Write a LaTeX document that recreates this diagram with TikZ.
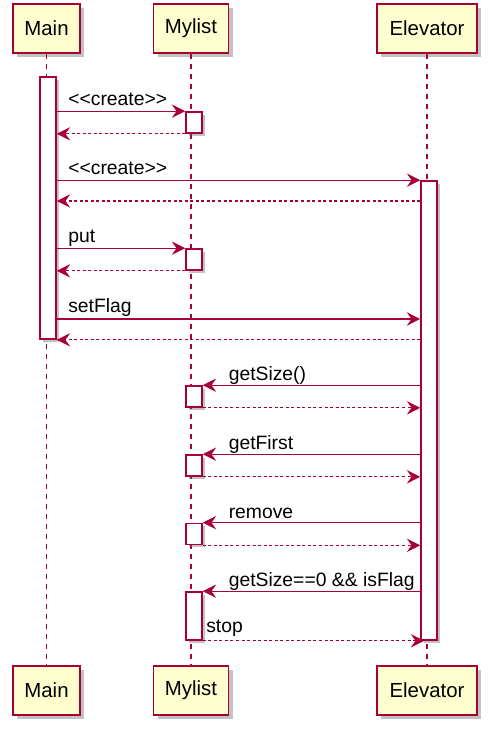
\documentclass[tikz,border=0pt]{standalone}
\usepackage{fontspec}
\setmainfont{Liberation Sans}
\usetikzlibrary{arrows.meta,shadows}

\definecolor{umlRed}{RGB}{168,0,54}
\definecolor{umlYellow}{RGB}{254,254,206}

\tikzset{
  actor/.style={draw=umlRed, fill=umlYellow, line width=1.3pt, minimum height=36.75pt, inner sep=0pt,
    font=\fontsize{15.3}{18}\selectfont,
    drop shadow={shadow xshift=3pt, shadow yshift=-3pt, fill=black!60, opacity=0.4}},
  actbar/.style={draw=umlRed, fill=white, line width=1.2pt, minimum width=12pt, inner sep=0pt,
    drop shadow={shadow xshift=2.2pt, shadow yshift=-2.2pt, fill=black!60, opacity=0.4}},
  lifeline/.style={draw=umlRed, line width=1pt, dash pattern=on 3.75pt off 3.75pt},
  call/.style={draw=umlRed, line width=1pt, -{Stealth[length=10pt,width=10pt,inset=3.5pt]}},
  ret/.style={call, dash pattern=on 2.25pt off 1.9pt},
  msg/.style={anchor=base west, inner sep=0.75pt, font=\fontsize{14.5}{17}\selectfont},
}

\begin{document}
\begin{tikzpicture}[x=0.75pt,y=0.75pt,yscale=-1,xscale=1]
\useasboundingbox (0,0) rectangle (490,730);

% participants
\node [actor, minimum width=50.25pt] (mainTop) at (46.5,28.5) {Main};
\node [actor, minimum width=56.25pt] (listTop) at (191,28.5) {Mylist};
\node [actor, minimum width=75pt] (elevTop) at (427,28.5) {Elevator};
\node [actor, minimum width=50.25pt] (mainBot) at (46.5,690.5) {Main};
\node [actor, minimum width=56.25pt] (listBot) at (191,690.5) {Mylist};
\node [actor, minimum width=75pt] (elevBot) at (427,690.5) {Elevator};

\draw [lifeline] (mainTop.south) -- (mainBot.north);
\draw [lifeline] (listTop.south) -- (listBot.north);
\draw [lifeline] (elevTop.south) -- (elevBot.north);

% activations
\node [actbar, minimum height=196.5pt] (mainAct) at (48,208) {};
\node [actbar, minimum height=344.25pt] (elevAct) at (429,410.5) {};
\node [actbar, minimum height=15.75pt] (list1) at (194,122.5) {};
\node [actbar, minimum height=15.75pt] (list2) at (194,259.5) {};
\node [actbar, minimum height=15.75pt] (list3) at (194,396.5) {};
\node [actbar, minimum height=15.75pt] (list4) at (194,465.5) {};
\node [actbar, minimum height=15.75pt] (list5) at (194,534) {};
\node [actbar, minimum height=36pt] (list6) at (194,616) {};

\coordinate (ackElev) at (429,201);
\coordinate (flagElev) at (429,319);

% Main -> Mylist / Elevator
\draw [call] (mainAct.east |- list1.north) -- (list1.north west);
\draw [ret] (list1.south west) -- (mainAct.east |- list1.south);
\draw [call] (mainAct.east |- elevAct.north) -- (elevAct.north west);
\draw [ret] (elevAct.west |- ackElev) -- (mainAct.east |- ackElev);
\draw [call] (mainAct.east |- list2.north) -- (list2.north west);
\draw [ret] (list2.south west) -- (mainAct.east |- list2.south);
\draw [call] (mainAct.east |- flagElev) -- (elevAct.west |- flagElev);
\draw [ret] (elevAct.west |- mainAct.south) -- (mainAct.south east);

% Elevator -> Mylist
\draw [call] (elevAct.west |- list3.north) -- (list3.north east);
\draw [ret] (list3.south east) -- (elevAct.west |- list3.south);
\draw [call] (elevAct.west |- list4.north) -- (list4.north east);
\draw [ret] (list4.south east) -- (elevAct.west |- list4.south);
\draw [call] (elevAct.west |- list5.north) -- (list5.north east);
\draw [ret] (list5.south east) -- (elevAct.west |- list5.south);
\draw [call] (elevAct.west |- list6.north) -- (list6.north east);
\draw [ret] (list6.south east) -- ([xshift=3pt]elevAct.south west);

\draw (67,106) node [msg] (lblNewList) {<\kern0pt<create>\kern0pt>};
\draw (67,175) node [msg] (lblNewElev) {<\kern0pt<create>\kern0pt>};
\draw (67,243) node [msg] (lblPut) {put};
\draw (67,313) node [msg] (lblFlag) {setFlag};
\draw (227.5,380) node [msg] (lblSize) {getSize()};
\draw (227.5,449.5) node [msg] (lblFirst) {getFirst};
\draw (227.5,518) node [msg] (lblRemove) {remove};
\draw (227.5,586) node [msg] (lblEmpty) {getSize==0 \&\& isFlag};
\draw (205,632) node [msg] (lblStop) {stop};

\end{tikzpicture}
\end{document}
